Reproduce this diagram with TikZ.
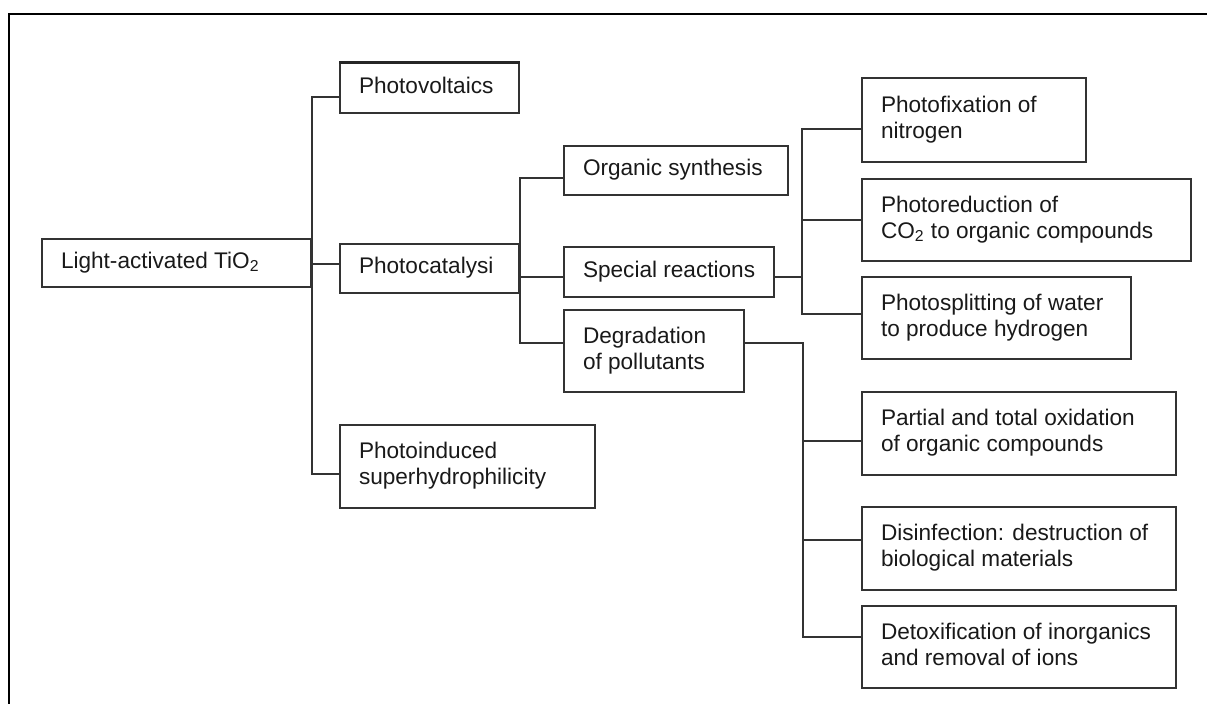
\documentclass[tikz,border=0pt]{standalone}
\usepackage{fontspec}
\setmainfont{Liberation Sans}
\newcommand\diagfs{\fontsize{11.3pt}{13pt}\selectfont}
\newcommand\bxtext[2]{\makebox[#1][l]{\hspace*{9.5pt}\begin{tabular}{@{}l@{}}#2\end{tabular}}}
\begin{document}
\begin{tikzpicture}[x=0.5pt,y=-0.5pt,
  box/.style={draw=black!80, line width=0.75pt, rectangle, inner xsep=0pt, inner ysep=0pt, font=\diagfs, text=black!90},
  ln/.style={draw=black!80, line width=0.75pt},
  frame/.style={draw=black, line width=1.3pt}]
\useasboundingbox (0,0) rectangle (1207,704);
\draw[frame] (9,704) -- (9,14) -- (1207,14);

\node[box, minimum height=24pt] (ti) at (176.5,263) {\bxtext{134.5pt}{Light-activated TiO\textsubscript{2}}};
\node[box, minimum height=25pt] (pv) at (429.5,88) {\bxtext{89.5pt}{Photovoltaics}};
\draw[line width=1.3pt, black!85] (pv.north west) -- (pv.north east);
\node[box, minimum height=24.5pt] (pc) at (429.5,268.5) {\bxtext{89.5pt}{Photocatalysi}};
\node[box, minimum height=41.5pt] (ph) at (467.5,466.5) {\bxtext{127.5pt}{Photoinduced\\superhydrophilicity}};
\node[box, minimum height=24.5pt] (os) at (676,170.5) {\bxtext{112pt}{Organic synthesis}};
\node[box, minimum height=25pt] (sr) at (669,272) {\bxtext{105pt}{Special reactions}};
\node[box, minimum height=41pt] (dg) at (654,351) {\bxtext{90pt}{Degradation\\of pollutants}};
\node[box, minimum height=42pt] (pf) at (974,120) {\bxtext{112pt}{Photofixation of\\nitrogen}};
\node[box, minimum height=41pt] (pr) at (1026.5,220) {\bxtext{164.5pt}{Photoreduction of\\CO\textsubscript{2} to organic compounds}};
\node[box, minimum height=41pt] (ps) at (996.5,318) {\bxtext{134.5pt}{Photosplitting of water\\to produce hydrogen}};
\node[box, minimum height=41.5pt] (po) at (1019,433.5) {\bxtext{157pt}{Partial and total oxidation\\of organic compounds}};
\node[box, minimum height=41.5pt] (di) at (1019,548.5) {\bxtext{157pt}{Disinfection: destruction of\\biological materials}};
\node[box, minimum height=41pt] (de) at (1019,647) {\bxtext{157pt}{Detoxification of inorganics\\and removal of ions}};

% connector end points
\coordinate (pv-in) at (pv.west |- 0,97);
\coordinate (pc-in) at (pc.west |- 0,264);
\coordinate (ph-in) at (ph.west |- 0,474);
\coordinate (os-in) at (os.west |- 0,178);
\coordinate (sr-in) at (sr.west |- 0,277);
\coordinate (dg-in) at (dg.west |- 0,343);
\coordinate (sr-out) at (sr.east |- 0,277);
\coordinate (dg-out) at (dg.east |- 0,343);
\coordinate (b1) at (802,277);
\coordinate (b2) at (803,343);
\coordinate (pf-in) at (pf.west |- 0,129);
\coordinate (pr-in) at (pr.west |- 0,220);
\coordinate (ps-in) at (ps.west |- 0,314);
\coordinate (po-in) at (po.west |- 0,441);
\coordinate (di-in) at (di.west |- 0,540);
\coordinate (de-in) at (de.west |- 0,637);

\draw[ln] (pv-in) -- (pv-in -| ti.east) -- (ph-in -| ti.east) -- (ph-in);
\draw[ln] (pc-in) -- (pc-in -| ti.east);

\draw[ln] (os-in) -- (os-in -| pc.east) -- (dg-in -| pc.east) -- (dg-in);
\draw[ln] (sr-in) -- (sr-in -| pc.east);

\draw[ln] (sr-out) -- (b1);
\draw[ln] (pf-in) -- (pf-in -| b1) -- (ps-in -| b1) -- (ps-in);
\draw[ln] (pr-in) -- (pr-in -| b1);

\draw[ln] (dg-out) -- (b2) -- (de-in -| b2) -- (de-in);
\draw[ln] (po-in) -- (po-in -| b2);
\draw[ln] (di-in) -- (di-in -| b2);
\end{tikzpicture}
\end{document}
